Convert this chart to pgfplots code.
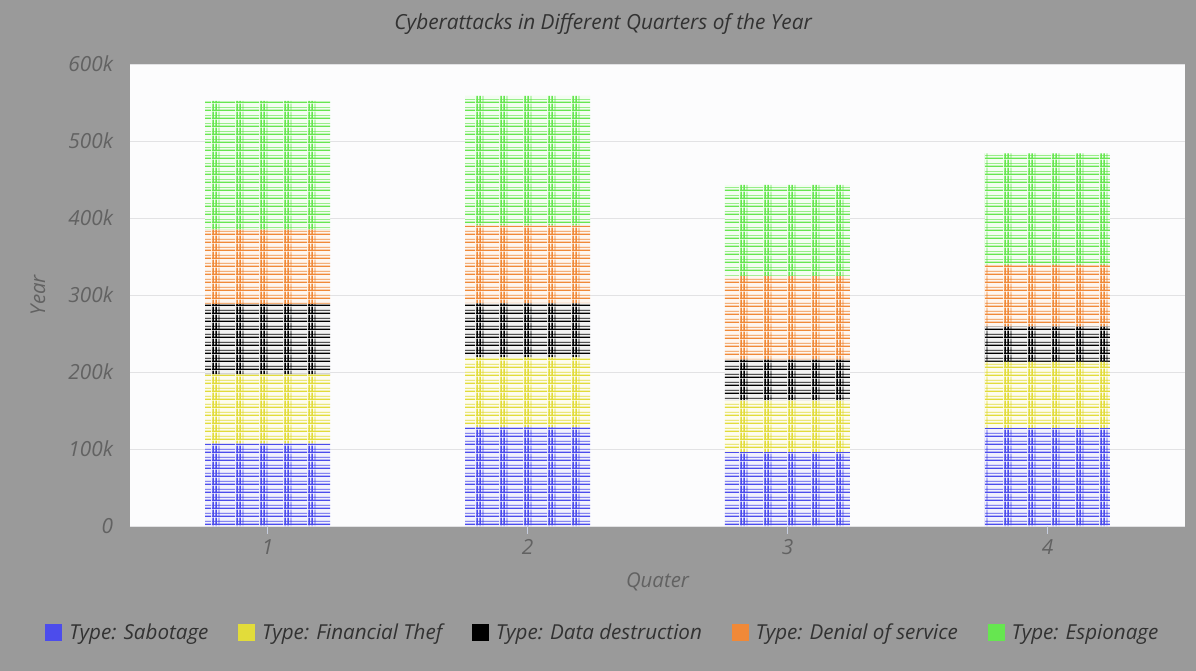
\documentclass[border=0pt]{standalone}
\usepackage{fontspec}
\setmainfont{Open Sans}
\usepackage{pgfplots}
\usepackage{pgfplotstable}
\pgfplotsset{compat=1.18}
\usetikzlibrary{patterns.meta}

\definecolor{bggray}{RGB}{154,154,154}
\definecolor{plotbg}{RGB}{252,252,253}
\definecolor{gridgray}{RGB}{226,226,228}
\definecolor{axisblue}{RGB}{198,205,222}
\definecolor{ticktext}{RGB}{98,98,98}
\definecolor{darktext}{RGB}{50,50,50}
\definecolor{sab}{RGB}{76,76,236}
\definecolor{fin}{RGB}{226,220,58}
\definecolor{dat}{RGB}{0,0,0}
\definecolor{dos}{RGB}{240,137,56}
\definecolor{esp}{RGB}{102,230,80}

\pgfdeclarepattern{
  name=cyber,
  type=uncolored,
  bottom left={\pgfpoint{0bp}{0bp}},
  top right={\pgfpoint{11.8bp}{3.85bp}},
  tile size={\pgfpoint{11.8bp}{3.85bp}},
  code={
    \pgfsetlinewidth{0.7bp}
    \pgfpathmoveto{\pgfpoint{0bp}{0.4bp}}\pgfpathlineto{\pgfpoint{11.8bp}{0.4bp}}
    \pgfpathmoveto{\pgfpoint{0.6bp}{0bp}}\pgfpathlineto{\pgfpoint{0.6bp}{3.85bp}}
    \pgfpathmoveto{\pgfpoint{2.1bp}{0bp}}\pgfpathlineto{\pgfpoint{2.1bp}{3.85bp}}
    \pgfusepath{stroke}
    \pgfsetlinewidth{0.35bp}
    \pgfpathmoveto{\pgfpoint{0bp}{1.9bp}}\pgfpathlineto{\pgfpoint{11.8bp}{1.9bp}}
    \pgfpathmoveto{\pgfpoint{3.6bp}{0bp}}\pgfpathlineto{\pgfpoint{3.6bp}{3.85bp}}
    \pgfusepath{stroke}
  }
}

\pgfplotstableread{
q sab fin dat dos esp
1 107000 90000 91000 97000 167000
2 128000 91000 70000 101000 169000
3 96000 67000 53000 109000 118000
4 127000 86000 46000 80000 145000
}\datatable

\begin{document}
\begin{tikzpicture}
\fill[bggray] (-65bp,-72.5bp) rectangle (533bp,263bp);
\useasboundingbox (-65bp,-72.5bp) rectangle (533bp,263bp);
\begin{axis}[
  scale only axis,
  width=527.5bp, height=231bp,
  ybar stacked,
  bar width=62.5bp,
  xmin=0.471, xmax=4.529,
  ymin=0, ymax=600000,
  xtick={1,2,3,4},
  xticklabels={1,2,3,4},
  ytick={0,100000,200000,300000,400000,500000,600000},
  yticklabels={0,100k,200k,300k,400k,500k,600k},
  scaled y ticks=false,
  axis background/.style={fill=plotbg},
  ymajorgrids,
  grid style={draw=gridgray, line width=0.5bp},
  separate axis lines,
  x axis line style={draw=axisblue, line width=0.6bp},
  y axis line style={draw=none},
  every outer x axis line/.append style={draw=none},
  xtick pos=bottom,
  tick align=outside,
  major tick length=4bp,
  xtick style={draw=axisblue, line width=0.6bp},
  ytick style={draw=none},
  ticklabel style={font=\fontsize{10.4bp}{12bp}\selectfont\itshape, text=ticktext},
  yticklabel style={anchor=east, xshift=-1bp},
  xticklabel style={anchor=center, yshift=-6.5bp},
  title={Cyberattacks in Different Quarters of the Year},
  title style={at={(axis description cs:0.4485,1)}, anchor=center, yshift=14bp, font=\fontsize{10.4bp}{12bp}\selectfont\itshape, text=darktext},
  xlabel={Quater},
  ylabel={Year},
  xlabel style={at={(axis description cs:0.5,-0.1212)}, anchor=center, font=\fontsize{10.2bp}{12bp}\selectfont\itshape, text=ticktext},
  ylabel style={at={(axis description cs:-0.0872,0.5)}, anchor=center, font=\fontsize{10.2bp}{12bp}\selectfont\itshape, text=ticktext},
  legend columns=5,
  legend style={draw=none, fill=none, at={(axis description cs:0.4492,-0.2316)}, anchor=center,
    font=\fontsize{10.3bp}{12bp}\selectfont\itshape, text=darktext,
    /tikz/every odd column/.append style={column sep=1.5bp},
    /tikz/every even column/.append style={column sep=12.8bp}},
  legend image code/.code={\fill[#1] (0bp,-4.25bp) rectangle (8.5bp,4.25bp);},
]
\addlegendimage{fill=sab, draw=none}
\addlegendentry{Type: Sabotage}
\addlegendimage{fill=fin, draw=none}
\addlegendentry{Type: Financial Thef}
\addlegendimage{fill=dat, draw=none}
\addlegendentry{Type: Data destruction}
\addlegendimage{fill=dos, draw=none}
\addlegendentry{Type: Denial of service}
\addlegendimage{fill=esp, draw=none}
\addlegendentry{Type: Espionage}

\addplot[forget plot, fill=sab!8, draw=none, postaction={pattern=cyber, pattern color=sab}] table[x=q, y=sab]{\datatable};
\addplot[forget plot, fill=fin!8, draw=none, postaction={pattern=cyber, pattern color=fin}] table[x=q, y=fin]{\datatable};
\addplot[forget plot, fill=dat!5, draw=none, postaction={pattern=cyber, pattern color=dat}] table[x=q, y=dat]{\datatable};
\addplot[forget plot, fill=dos!8, draw=none, postaction={pattern=cyber, pattern color=dos}] table[x=q, y=dos]{\datatable};
\addplot[forget plot, fill=esp!8, draw=none, postaction={pattern=cyber, pattern color=esp}] table[x=q, y=esp]{\datatable};
\end{axis}
\end{tikzpicture}
\end{document}
